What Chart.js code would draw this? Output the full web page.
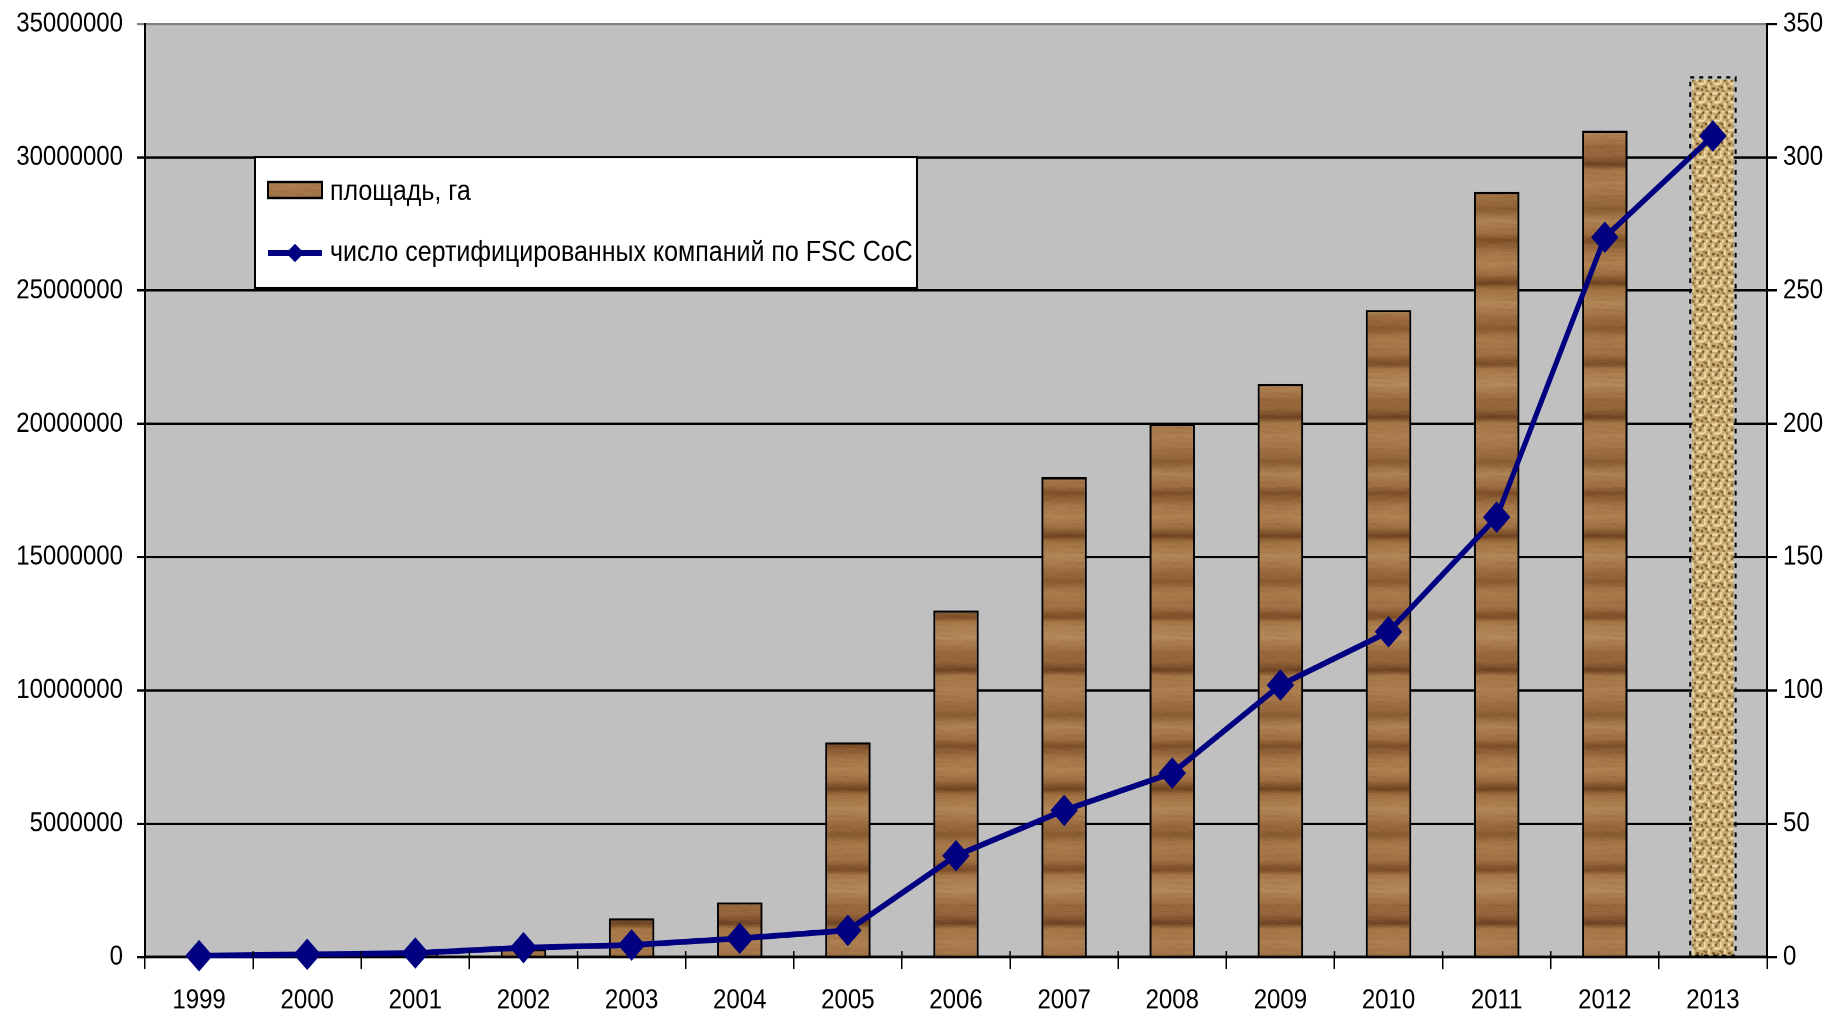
<!DOCTYPE html>
<html>
<head>
<meta charset="utf-8">
<script src="https://cdn.jsdelivr.net/npm/chart.js@4.4.1/dist/chart.umd.min.js"></script>
<style>
html,body{margin:0;padding:0;background:#fff;overflow:hidden;}
#outer{width:1835px;height:1013px;position:relative;overflow:hidden;}
#wrap{width:1835px;height:881px;position:absolute;left:0;top:0;transform-origin:0 0;}
#c{display:block;}
</style>
</head>
<body>
<div id="outer"><div id="wrap"><canvas id="c"></canvas></div></div>
<script>
// ---- data ----
const years = ['1999','2000','2001','2002','2003','2004','2005','2006','2007','2008','2009','2010','2011','2012','2013'];
const areaHa = [0, 30000, 100000, 300000, 1450000, 2050000, 8050000, 13000000, 18000000, 20000000, 21500000, 24270000, 28700000, 31000000, 33000000];
const companies = [0.5, 1, 1.5, 3.5, 4.5, 7, 10, 38, 55, 69, 102, 122, 165, 270, 308];
const areaLabel = 'площадь, га';
const companiesLabel = 'число сертифицированных компаний по FSC CoC';
const leftTicks = [0, 5000000, 10000000, 15000000, 20000000, 25000000, 30000000, 35000000];
const rightTicks = [0, 50, 100, 150, 200, 250, 300, 350];

// ---- canvas geometry (the drawing is stretched vertically like the original) ----
const W = 1835, H_OUT = 1013, H = 881;
const S = H_OUT / H;
const wrap = document.getElementById('wrap');
wrap.style.transform = 'scaleY(' + S + ')';
const cv = document.getElementById('c');
cv.style.width = W + 'px'; cv.style.height = H + 'px';
const v = (real) => real / S; // convert target pixel y to canvas units
const TOP = v(24);

const FAMILY = '"Liberation Sans", Arial, sans-serif';
const FSIZE = 24;

// ---- textures ----
function woodPattern(){
  const c = document.createElement('canvas');
  c.width = 48; c.height = 220;
  const g = c.getContext('2d');
  const stops = [
    [0.00,'#a77849'],[0.05,'#b08252'],[0.09,'#9a6a3c'],[0.12,'#6c4220'],[0.14,'#a07040'],
    [0.20,'#b48858'],[0.26,'#9c6c40'],[0.30,'#8a5c32'],[0.34,'#aa7c4c'],[0.40,'#a27244'],
    [0.44,'#7a4c26'],[0.46,'#a87a4a'],[0.52,'#b68a5c'],[0.58,'#9a6a3e'],[0.62,'#94643a'],
    [0.65,'#6a4020'],[0.67,'#a47646'],[0.73,'#ae8052'],[0.79,'#9c6e42'],[0.83,'#8c5e34'],
    [0.87,'#b08456'],[0.92,'#a07042'],[0.95,'#7e5028'],[1.00,'#a77849']
  ];
  const gr = g.createLinearGradient(0,0,0,220);
  for (const [o,col] of stops) gr.addColorStop(o,col);
  g.fillStyle = gr; g.fillRect(0,0,48,220);
  for (let y=0;y<220;y++){
    const a = 0.12*(Math.sin(y*1.3)*0.5+0.5);
    g.fillStyle = 'rgba(80,45,18,' + a.toFixed(3) + ')';
    g.fillRect((y*13)%30, y, 20, 1);
    const b = 0.12*(Math.sin(y*0.71+2)*0.5+0.5);
    g.fillStyle = 'rgba(225,180,125,' + b.toFixed(3) + ')';
    g.fillRect((y*19)%34, y, 14, 1);
  }
  return g.createPattern(c, 'repeat');
}
function burlapPattern(){
  const c = document.createElement('canvas');
  c.width = 16; c.height = 16;
  const g = c.getContext('2d');
  g.fillStyle = '#c9aa70'; g.fillRect(0,0,16,16);
  g.fillStyle = '#f0dcaa';
  g.fillRect(0,0,6,2); g.fillRect(8,3,2,6); g.fillRect(2,8,6,2); g.fillRect(12,9,2,6); g.fillRect(10,0,2,3); g.fillRect(0,4,2,3);
  g.fillStyle = '#6a5024';
  g.fillRect(6,1,2,2); g.fillRect(12,5,2,2); g.fillRect(0,12,3,2); g.fillRect(5,13,2,2); g.fillRect(14,1,2,2); g.fillRect(9,11,2,2); g.fillRect(3,5,2,2);
  g.fillStyle = '#947844';
  g.fillRect(4,3,2,2); g.fillRect(10,14,3,2); g.fillRect(14,8,2,2); g.fillRect(7,10,2,2);
  return g.createPattern(c, 'repeat');
}
const WOOD = woodPattern();
const BURLAP = burlapPattern();
const lastIdx = years.length - 1;

// ---- plugins ----
const bgPlugin = {
  id: 'plotBg',
  beforeDraw(chart){
    const a = chart.chartArea, ctx = chart.ctx;
    ctx.save(); ctx.fillStyle = '#c0c0c0';
    ctx.fillRect(a.left, a.top, a.right-a.left, a.bottom-a.top);
    ctx.restore();
  }
};
const extrasPlugin = {
  id: 'extras',
  afterDatasetsDraw(chart){
    const ctx = chart.ctx;
    const meta = chart.getDatasetMeta(0);
    const el = meta.data[lastIdx];
    if (el){
      const w = el.width, x0 = el.x - w/2, top = el.y, bot = el.base;
      ctx.save();
      ctx.strokeStyle = '#000'; ctx.lineWidth = 2; ctx.setLineDash([4,5]);
      ctx.strokeRect(x0, top, w, bot-top);
      ctx.restore();
    }
  },
  afterDraw(chart){
    const ctx = chart.ctx, a = chart.chartArea;
    const xs = chart.scales.x;
    ctx.save(); ctx.strokeStyle = '#000'; ctx.lineWidth = 1.5;
    for (let i=0;i<=years.length;i++){
      const px = xs.getPixelForValue(i - 0.5);
      ctx.beginPath(); ctx.moveTo(px, a.bottom); ctx.lineTo(px, a.bottom-v(6)); ctx.stroke();
    }
    ctx.restore();
    // legend
    const lx = 255, ly = v(157), lw = 662, lh = v(288) - v(157);
    ctx.save();
    ctx.fillStyle = '#fff'; ctx.fillRect(lx, ly, lw, lh);
    ctx.strokeStyle = '#000'; ctx.lineWidth = 2; ctx.strokeRect(lx, ly, lw, lh);
    ctx.fillStyle = WOOD; ctx.fillRect(lx+13, v(182), 54, v(198)-v(182));
    ctx.lineWidth = 2; ctx.strokeRect(lx+13, v(182), 54, v(198)-v(182));
    const cy = v(253);
    ctx.strokeStyle = '#000080'; ctx.lineWidth = 5;
    ctx.beginPath(); ctx.moveTo(lx+13, cy); ctx.lineTo(lx+67, cy); ctx.stroke();
    ctx.fillStyle = '#000080';
    ctx.beginPath(); ctx.moveTo(lx+40-9, cy); ctx.lineTo(lx+40, cy-8); ctx.lineTo(lx+40+9, cy); ctx.lineTo(lx+40, cy+8); ctx.closePath(); ctx.fill();
    ctx.fillStyle = '#000';
    ctx.font = '25px ' + FAMILY;
    ctx.textBaseline = 'middle'; ctx.textAlign = 'left';
    ctx.fillText(chart.data.datasets[0].label, lx+75, v(192));
    ctx.fillText(chart.data.datasets[1].label, lx+75, cy);
    ctx.restore();
  }
};

Chart.defaults.font.family = FAMILY;
Chart.defaults.font.size = FSIZE;
Chart.defaults.color = '#000';

const chart = new Chart(cv, {
  data: {
    labels: years,
    datasets: [
      {
        type: 'bar',
        label: areaLabel,
        data: areaHa,
        yAxisID: 'y',
        order: 2,
        backgroundColor: (c) => c.dataIndex === lastIdx ? BURLAP : WOOD,
        borderColor: (c) => c.dataIndex === lastIdx ? 'rgba(0,0,0,0)' : '#000',
        borderWidth: 2,
        barPercentage: 0.42,
        categoryPercentage: 1.0
      },
      {
        type: 'line',
        label: companiesLabel,
        data: companies,
        yAxisID: 'y1',
        order: 1,
        borderColor: '#000080',
        backgroundColor: '#000080',
        borderWidth: 5,
        pointStyle: 'rectRot',
        pointRadius: 13,
        pointHoverRadius: 13,
        pointBackgroundColor: '#000080',
        pointBorderColor: '#000080',
        pointBorderWidth: 1,
        tension: 0,
        clip: false
      }
    ]
  },
  options: {
    responsive: false,
    maintainAspectRatio: false,
    devicePixelRatio: 2,
    animation: false,
    events: [],
    layout: { padding: { top: TOP, left: 0, right: 0, bottom: 0 } },
    plugins: { legend: { display: false }, tooltip: { enabled: false } },
    scales: {
      x: {
        offset: true,
        grid: { offset: true, drawOnChartArea: false, color: '#000', lineWidth: 1.5, tickLength: v(12) },
        border: { color: '#000', width: 2.5 },
        ticks: { padding: 13, maxRotation: 0, autoSkip: false, color: '#000' },
        afterFit(s){ s.height = v(1013 - 957); }
      },
      y: {
        position: 'left',
        min: 0, max: 35000000,
        afterBuildTicks(s){ s.ticks = leftTicks.map(t => ({ value: t })); },
        grid: {
          color: (c) => c.tick && c.tick.value === 35000000 ? '#808080' : '#000',
          lineWidth: 2,
          tickLength: 8
        },
        border: { color: '#000', width: 2 },
        ticks: { padding: 14, color: '#000', font: { size: FSIZE, lineHeight: 0.2 }, callback: (t) => String(t) },
        afterFit(s){ s.width = 145; }
      },
      y1: {
        position: 'right',
        min: 0, max: 350,
        afterBuildTicks(s){ s.ticks = rightTicks.map(t => ({ value: t })); },
        grid: { drawOnChartArea: false, color: '#000', lineWidth: 2, tickLength: 10 },
        border: { color: '#000', width: 2 },
        ticks: { padding: 6, color: '#000', font: { size: FSIZE, lineHeight: 0.2 }, callback: (t) => String(t) },
        afterFit(s){ s.width = W - 1767; }
      }
    }
  },
  plugins: [bgPlugin, extrasPlugin]
});
// correct any residual offset of the plot top
for (let k = 0; k < 2; k++){
  const d = chart.chartArea.top - TOP;
  if (Math.abs(d) > 0.3){
    chart.options.layout.padding.top = Math.max(0, chart.options.layout.padding.top - d);
    chart.update();
  }
}
</script>
</body>
</html>
